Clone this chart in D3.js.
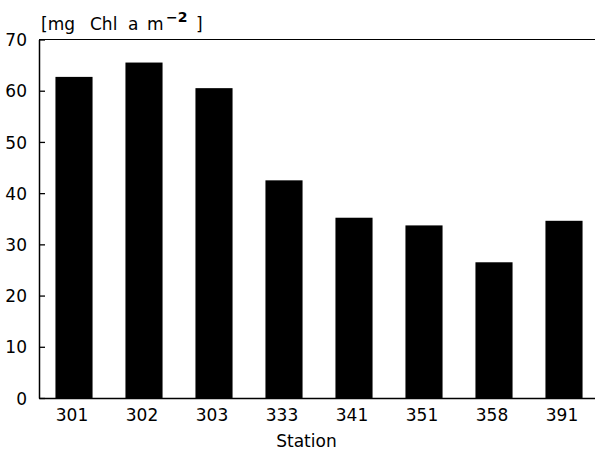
<!DOCTYPE html>
<html>
<head>
<meta charset="utf-8">
<script src="https://cdn.jsdelivr.net/npm/d3@7"></script>
<style>
  html, body { margin: 0; padding: 0; background: #fff; }
  #graph { width: 595px; height: 454px; }
  text { font-family: "DejaVu Sans", sans-serif; fill: #000; }
</style>
</head>
<body>
<div id="graph"></div>
<script>
const stations = ["301", "302", "303", "333", "341", "351", "358", "391"];
const chlValues = [62.7, 65.5, 60.5, 42.5, 35.2, 33.7, 26.5, 34.6];
const yTicks = [0, 10, 20, 30, 40, 50, 60, 70];

function chart() {
  const layout = { top: 39.5, right: -4, bottom: 56, left: 39 };
  const width = 595 - layout.left - layout.right;
  const height = 454 - layout.top - layout.bottom;
  const fontSize = "17px";

  const svg = d3.select("#graph")
    .append("svg")
    .attr("width", 595)
    .attr("height", 454)
    .append("g")
    .attr("transform", "translate(" + layout.left + "," + layout.top + ")");

  const x = d3.scaleBand()
    .domain(stations)
    .range([0, width])
    .paddingInner(0.47)
    .paddingOuter(0.235);

  const y = d3.scaleLinear()
    .domain([0, 70])
    .range([height, 0]);

  // bars
  svg.selectAll("rect.bar")
    .data(stations)
    .enter()
    .append("rect")
    .attr("class", "bar")
    .attr("x", function(d) { return x(d) })
    .attr("width", x.bandwidth())
    .attr("y", function(d, i) { return y(chlValues[i]) })
    .attr("height", function(d, i) { return height - y(chlValues[i]) })
    .attr("fill", "#000");

  // y axis, ticks pointing inward
  const yAxis = svg.append("g")
    .call(d3.axisLeft(y).tickValues(yTicks).tickSize(-6).tickPadding(12).tickSizeOuter(0));
  yAxis.select(".domain").attr("stroke-width", 1.5);
  yAxis.selectAll(".tick line").attr("stroke-width", 1.3);
  yAxis.selectAll(".tick text")
    .style("font-size", fontSize)
    .attr("dy", "0.36em");

  // x axis, no ticks
  const xAxis = svg.append("g")
    .attr("transform", "translate(0," + height + ")")
    .call(d3.axisBottom(x).tickSize(0).tickPadding(10));
  xAxis.select(".domain").attr("stroke-width", 1.5);
  xAxis.selectAll(".tick text")
    .style("font-size", fontSize)
    .attr("dy", "0.75em")
    .attr("dx", -2);

  // top frame line
  svg.append("line")
    .attr("x1", 0).attr("x2", width)
    .attr("y1", 0).attr("y2", 0)
    .attr("stroke", "#000")
    .attr("stroke-width", 1.2);

  // x title
  svg.append("text")
    .attr("x", x("341") - 29)
    .attr("y", height + 49)
    .attr("text-anchor", "middle")
    .style("font-size", fontSize)
    .text("Station");

  // y unit label
  const unit = svg.append("text")
    .attr("y", -9.5)
    .style("font-size", fontSize);
  unit.append("tspan").attr("x", 2).text("[mg");
  unit.append("tspan").attr("x", 51).text("Chl");
  unit.append("tspan").attr("x", 89).text("a");
  unit.append("tspan").attr("x", 108).text("m");
  unit.append("tspan")
    .attr("x", 127)
    .attr("dy", -8)
    .style("font-size", "14px")
    .style("font-weight", "bold")
    .text("\u22122");
  unit.append("tspan")
    .attr("x", 157)
    .attr("dy", 8)
    .text("]");
}

chart();
</script>
</body>
</html>
